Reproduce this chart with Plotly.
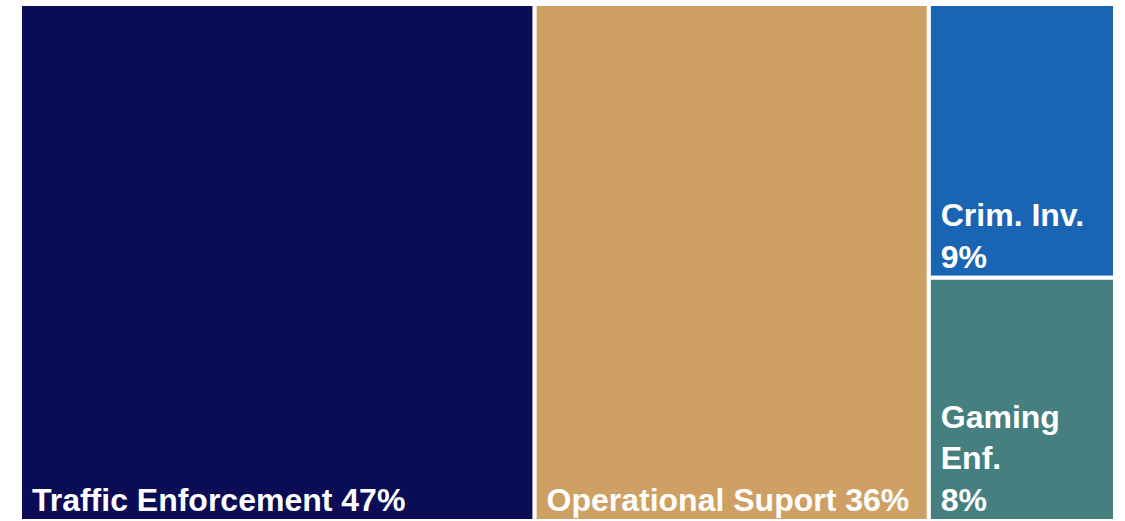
import plotly.graph_objects as go

# Division share of budget (percent)
divisions = ["Traffic Enforcement", "Operational Suport", "Crim. Inv.", "Gaming<br>&nbsp;Enf."]
shares = [47, 36, 9, 8]
separators = [" ", " ", "<br>&nbsp;", "<br>&nbsp;"]
tile_colors = ["#0a0d56", "#cfa063", "#1a65b3", "#467f80"]

fig = go.Figure(
    go.Treemap(
        labels=divisions,
        parents=[""] * len(divisions),
        values=shares,
        customdata=separators,
        texttemplate="<b>&nbsp;%{label}%{customdata}%{value}%</b>",
        textposition="bottom left",
        textfont=dict(family="Liberation Sans, Arial, sans-serif", size=32, color="white"),
        marker=dict(
            colors=tile_colors,
            line=dict(color="white", width=4),
            pad=dict(t=0, l=0, r=0, b=0),
        ),
        tiling=dict(packing="squarify", squarifyratio=1, pad=0),
        sort=True,
        hoverinfo="skip",
        pathbar=dict(visible=False),
    )
)

fig.update_layout(
    width=1125,
    height=521,
    margin=dict(l=20, r=10, t=4, b=0),
    paper_bgcolor="white",
    showlegend=False,
)

fig.write_html("out.html")
